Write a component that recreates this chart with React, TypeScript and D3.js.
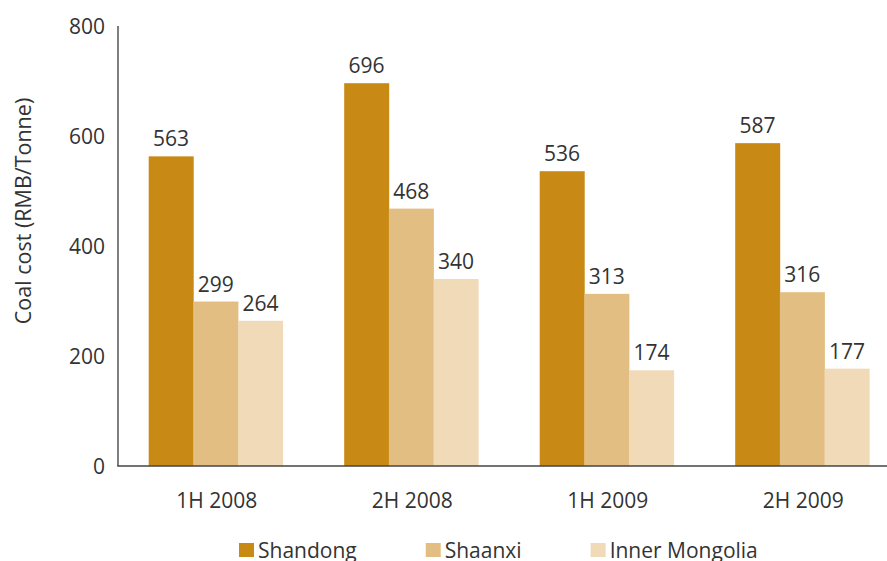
import React, { useEffect, useRef } from "react";
import * as d3 from "d3";

// periods on the x axis
const periods = ["1H 2008", "2H 2008", "1H 2009", "2H 2009"];
// provinces (series)
const provinces = ["Shandong", "Shaanxi", "Inner Mongolia"];
// coal cost, RMB/tonne, per province per period
const shandong = [563, 696, 536, 587];
const shaanxi = [299, 468, 313, 316];
const innerMongolia = [264, 340, 174, 177];
const yTicks = [0, 200, 400, 600, 800];
const colors = ["#C88A14", "#E3BE82", "#F0DAB7"];

const W = 887;
const H = 561;
const FONT = "'Open Sans', 'Noto Sans', sans-serif";
const TEXT = "#333333";

const App: React.FC = () => {
  const ref = useRef<SVGSVGElement>(null);

  useEffect(() => {
    const svg = d3.select(ref.current);
    svg.selectAll("*").remove();

    const series = [shandong, shaanxi, innerMongolia];

    const y = d3.scaleLinear().domain([0, 800]).range([466, 26]);
    const x = d3
      .scaleBand<string>()
      .domain(periods)
      .range([118, 900])
      .paddingInner(0.314)
      .paddingOuter(0.157);
    const xs = d3
      .scaleBand<string>()
      .domain(provinces)
      .range([0, x.bandwidth()]);

    const root = svg.append("g").style("font-family", FONT).attr("fill", TEXT);

    // bars
    const groups = root
      .selectAll("g.period")
      .data(periods)
      .join("g")
      .attr("class", "period")
      .attr("transform", (d) => `translate(${x(d)},0)`);

    groups
      .selectAll("rect")
      .data((_, i) => provinces.map((p, k) => ({ p, v: series[k][i], k })))
      .join("rect")
      .attr("x", (d) => xs(d.p)!)
      .attr("width", xs.bandwidth() + 0.3)
      .attr("y", (d) => y(d.v))
      .attr("height", (d) => y(0) - y(d.v))
      .attr("fill", (d) => colors[d.k]);

    groups
      .selectAll("text")
      .data((_, i) => provinces.map((p, k) => ({ p, v: series[k][i] })))
      .join("text")
      .attr("x", (d) => xs(d.p)! + xs.bandwidth() / 2)
      .attr("y", (d) => y(d.v) - 10)
      .attr("text-anchor", "middle")
      .style("font-size", "21px")
      .text((d) => d.v);

    // axes lines
    root
      .append("line")
      .attr("x1", 118)
      .attr("x2", 118)
      .attr("y1", y(800))
      .attr("y2", y(0))
      .attr("stroke", "#555")
      .attr("stroke-width", 1.5);
    root
      .append("line")
      .attr("x1", 117.25)
      .attr("x2", W)
      .attr("y1", y(0))
      .attr("y2", y(0))
      .attr("stroke", "#444")
      .attr("stroke-width", 1.5);

    // y tick labels
    root
      .selectAll("text.ytick")
      .data(yTicks)
      .join("text")
      .attr("class", "ytick")
      .attr("x", 105)
      .attr("y", (d) => y(d))
      .attr("dy", "0.36em")
      .attr("text-anchor", "end")
      .style("font-size", "21px")
      .text((d) => d);

    // x tick labels
    root
      .selectAll("text.xtick")
      .data(periods)
      .join("text")
      .attr("class", "xtick")
      .attr("x", (d) => x(d)! + x.bandwidth() / 2 + 1)
      .attr("y", 508)
      .attr("text-anchor", "middle")
      .style("font-size", "21px")
      .text((d) => d);

    // y axis title
    root
      .append("text")
      .attr("transform", `translate(31,211) rotate(-90)`)
      .attr("text-anchor", "middle")
      .style("font-size", "21.5px")
      .text("Coal cost (RMB/Tonne)");

    // legend
    let lx = 239;
    provinces.forEach((p, k) => {
      const g = root.append("g").attr("transform", `translate(${lx},0)`);
      g.append("rect")
        .attr("x", 0)
        .attr("y", 543)
        .attr("width", 15)
        .attr("height", 14)
        .attr("fill", colors[k]);
      const t = g
        .append("text")
        .attr("x", 19)
        .attr("y", 558)
        .style("font-size", "21px")
        .text(p);
      const w = (t.node() as SVGTextElement).getComputedTextLength();
      lx += 19 + w + 69;
    });
  }, []);

  return (
    <svg
      ref={ref}
      width={W}
      height={H}
      style={{ position: "absolute", left: 0, top: 0, background: "#fff" }}
    />
  );
};

export default App;
